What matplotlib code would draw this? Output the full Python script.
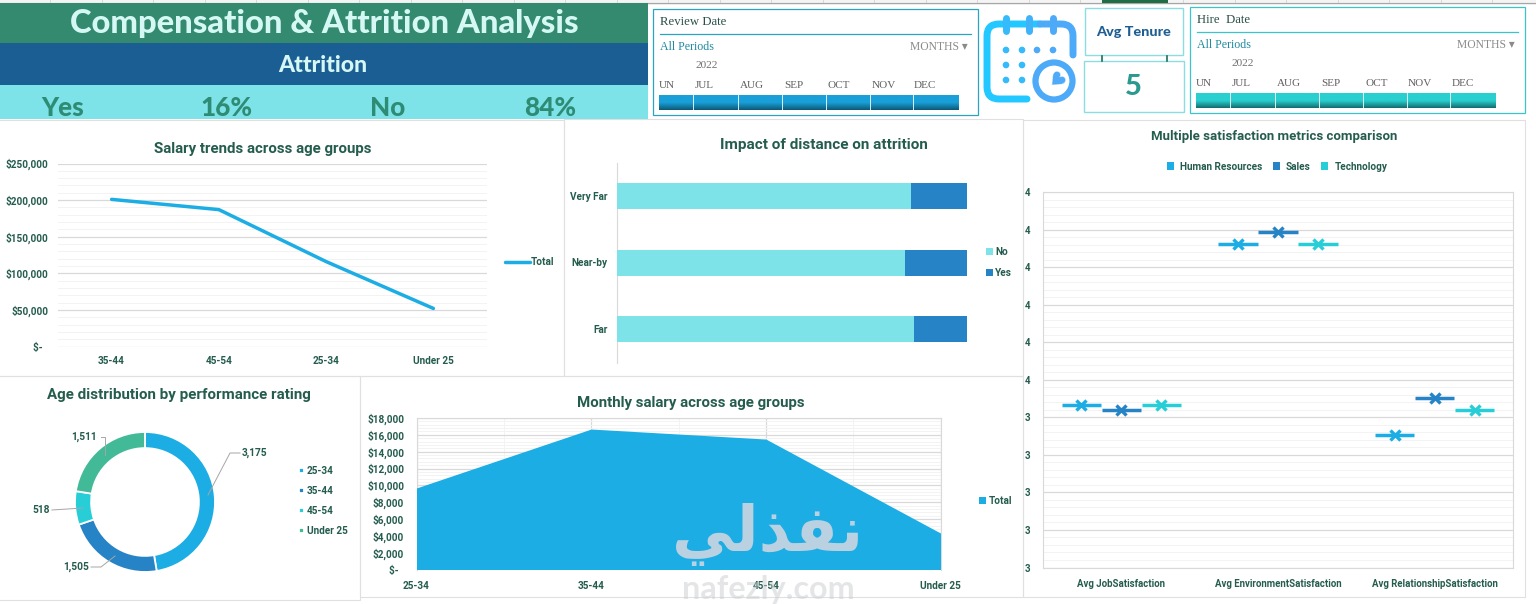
import numpy as np
import matplotlib
matplotlib.use("Agg")
import matplotlib.pyplot as plt
from matplotlib.patches import Rectangle, Circle, PathPatch
from matplotlib.path import Path
from matplotlib.colors import LinearSegmentedColormap
from matplotlib.ticker import MultipleLocator, FixedLocator, NullFormatter

# ---------- data ----------
line_categories = ["35-44", "45-54", "25-34", "Under 25"]
line_values = [201000, 187000, 116000, 52000]

distance_categories = ["Far", "Near-by", "Very Far"]
distance_no = [0.849, 0.823, 0.840]
distance_yes = [0.151, 0.177, 0.160]

area_categories = ["25-34", "35-44", "45-54", "Under 25"]
area_values = [9690, 16690, 15500, 4330]

donut_labels = ["25-34", "35-44", "45-54", "Under 25"]
donut_values = [3175, 1505, 518, 1511]

metric_categories = ["Avg JobSatisfaction", "Avg EnvironmentSatisfaction", "Avg RelationshipSatisfaction"]
metric_series = ["Human Resources", "Sales", "Technology"]
metric_hr = [3.433, 3.862, 3.353]
metric_sales = [3.420, 3.893, 3.452]
metric_tech = [3.432, 3.862, 3.420]
metric_ticklabels = ["3", "3", "3", "3", "3", "4", "4", "4", "4", "4", "4"]

slicer_months = ["UN", "JUL", "AUG", "SEP", "OCT", "NOV", "DEC"]
attrition_yes = "16%"
attrition_no = "84%"
avg_tenure = "5"

# ---------- style ----------
BLUE, DBLUE, CYAN, GREEN = "#1CADE4", "#2683C6", "#27CED7", "#42BA97"
PALE = "#7DE3E8"
INK = "#245C4E"
FRAME = "#E0E0E0"
MAJOR, MINOR = "#D9D9D9", "#F3F3F3"
UI = "Roboto"
HEAD = "Lato"
SERIF = "Liberation Serif"
LEG = {"family": UI, "weight": "bold", "size": 7.2}

W, H = 1536, 604
fig = plt.figure(figsize=(W / 100, H / 100), dpi=100, facecolor="white")


def axpx(l, t, r, b, **kw):
    return fig.add_axes([l / W, 1 - b / H, (r - l) / W, (b - t) / H], **kw)


def make_overlay(z):
    a = fig.add_axes([0, 0, 1, 1], zorder=z)
    a.set_xlim(0, W)
    a.set_ylim(H, 0)
    a.axis("off")
    a.patch.set_alpha(0)
    return a


bg = make_overlay(0)
top = make_overlay(20)


def rect(l, t, r, b, fc="none", ec="none", lw=1.0, ax=bg, z=1):
    ax.add_patch(Rectangle((l, t), r - l, b - t, facecolor=fc, edgecolor=ec, linewidth=lw, zorder=z))


def txt(x, y, s, size=8, color=INK, weight="bold", family=UI, ha="center", va="center", ax=bg, **kw):
    return ax.text(x, y, s, fontsize=size, color=color, fontweight=weight, family=family,
                   ha=ha, va=va, zorder=5, **kw)


def style_axis(ax, size=7.2):
    for s in ax.spines.values():
        s.set_visible(False)
    ax.set_facecolor("none")
    ax.tick_params(axis="both", which="both", length=0)
    ax.set_axisbelow(True)
    for lab in ax.get_xticklabels() + ax.get_yticklabels():
        lab.set_fontsize(size)
        lab.set_fontweight("bold")
        lab.set_family(UI)
        lab.set_color(INK)


def hgrid(ax, major, minor):
    ax.yaxis.set_major_locator(MultipleLocator(major))
    ax.yaxis.set_minor_locator(MultipleLocator(minor))
    ax.grid(True, axis="y", which="minor", color=MINOR, linewidth=0.7)
    ax.grid(True, axis="y", which="major", color=MAJOR, linewidth=0.9)


# ---------- sheet chrome ----------
rect(0, 0, W, 2, fc="#F4F4F4")
bg.plot([0, W], [2.5, 2.5], color="#A6A6A6", lw=1.0, zorder=2)
for x in np.arange(50, W, 51.5):
    bg.plot([x, x], [0, 2], color="#C8C8C8", lw=0.5, zorder=2)
rect(1102, 0, 1168, 3, fc="#1E6E45", z=3)

# ---------- panels ----------
rect(-2, 120, 563.5, 375.5, ec=FRAME, lw=0.8)
rect(563.5, 119, 1023, 375.5, ec=FRAME, lw=0.8)
rect(-2, 376, 359.5, 600, ec=FRAME, lw=0.8)
rect(359.5, 376, 1023, 597, ec=FRAME, lw=0.8)
rect(1023, 120, 1525, 597, ec=FRAME, lw=0.8)

# ---------- header ----------
rect(0, 3, 648, 43, fc="#338A6E", z=2)
rect(0, 43, 648, 85, fc="#1B5E93", z=2)
rect(0, 85, 648, 119, fc=PALE, z=2)
txt(324, 23.5, "Compensation & Attrition Analysis", size=23.6, color="#D5F8F5", family=HEAD, weight="black")
txt(323, 65.5, "Attrition", size=16.6, color="#D5F8F5", family=HEAD, weight="black")
for x, s in zip([63, 226, 388, 550], ["Yes", attrition_yes, "No", attrition_no]):
    txt(x, 108, s, size=18.8, color="#2E8B74", family=HEAD, weight="black")


# ---------- slicers ----------
def slicer(l, t, r, b, title, month_x, bar_l, bar_r, seps, c1, c2, ec):
    rect(l, t, r, b, fc="white", ec=ec, lw=0.9, z=2)
    txt(l + 7, t + 13, title, size=9.2, color="#2A4F48", weight="normal", family=SERIF, ha="left")
    bg.plot([l + 7, r - 7], [t + 25, t + 25], color=ec, lw=0.9, zorder=3)
    txt(l + 7, t + 38, "All Periods", size=8.6, color="#1F8AA0", weight="normal", family=SERIF, ha="left")
    txt(r - 10, t + 38, "MONTHS \u25be", size=8.4, color="#8A8A8A", weight="normal", family=[SERIF, "DejaVu Sans"], ha="right")
    txt(month_x[1], t + 57, "2022", size=8.2, color="#707070", weight="normal", family=SERIF, ha="left")
    for x, m in zip(month_x, slicer_months):
        txt(x, t + 76, m, size=8.0, color="#5F5F5F", weight="normal", family=SERIF, ha="left")
    cmap = LinearSegmentedColormap.from_list("g", [c1, c1, c2])
    bg.imshow(np.linspace(0, 1, 32).reshape(-1, 1), extent=(bar_l, bar_r, t + 101, t + 86), cmap=cmap,
              aspect="auto", zorder=3, origin="upper")
    bg.set_xlim(0, W)
    bg.set_ylim(H, 0)
    for x in seps:
        bg.plot([x, x], [t + 86, t + 101], color="white", lw=0.6, zorder=4)


slicer(653, 9, 978, 115, "Review Date", [659, 695, 740, 784, 828, 872, 914], 659, 959,
       [693, 738, 782, 826, 870, 913], "#1A9FD8", "#0B5A78", "#2AA5C0")
slicer(1190, 7, 1525, 113, "Hire  Date", [1196, 1232, 1277, 1321, 1365, 1408, 1452], 1196, 1496,
       [1230, 1275, 1319, 1363, 1407, 1450], "#2ACFCF", "#126E70", "#3CC4CC")

# ---------- calendar icon ----------
C1, C2 = "#22C8FF", "#4DAAF8"
r = 12
body_l = Path([(1027, 99), (987 + r, 99), (987, 99), (987, 99 - r), (987, 24 + r), (987, 24), (987 + r, 24), (1040, 24)],
              [Path.MOVETO, Path.LINETO, Path.CURVE3, Path.CURVE3, Path.LINETO, Path.CURVE3, Path.CURVE3, Path.LINETO])
body_r = Path([(1040, 24), (1073 - r, 24), (1073, 24), (1073, 24 + r), (1073, 55)],
              [Path.MOVETO, Path.LINETO, Path.CURVE3, Path.CURVE3, Path.LINETO])
bg.add_patch(PathPatch(body_l, fc="none", ec=C1, lw=5, capstyle="round", zorder=3))
bg.add_patch(PathPatch(body_r, fc="none", ec=C2, lw=5, capstyle="round", zorder=3))
for x, c in zip([1006, 1029, 1053], ["#35BAFC", "#40B2FA", C2]):
    bg.plot([x, x], [18, 31], color=c, lw=5, solid_capstyle="round", zorder=4)
for y, xs in zip([50, 65, 80], [[1006, 1022, 1037, 1053], [1006, 1022], [1006, 1022]]):
    for x in xs:
        bg.add_patch(Circle((x, y), 3.3, fc="#35BAFC" if x < 1030 else C2, ec="none", zorder=4))
bg.add_patch(Circle((1054, 81), 18.5, fc="white", ec=C2, lw=4.5, zorder=4))
txt(1054, 81, "\u2665", size=14, color=C2, weight="normal", family="DejaVu Sans", rotation=-45)

# ---------- tenure cards ----------
rect(1085, 8, 1183, 55, fc="white", ec="#8CDDE0", lw=1.0, z=2)
rect(1084, 61, 1184, 112, fc="white", ec="#8CDDE0", lw=1.0, z=2)
for x in [1102, 1167]:
    bg.plot([x, x], [55.5, 60.5], color="#1E6E5A", lw=1.2, zorder=2)
txt(1134, 32, "Avg Tenure", size=10.4, color="#1F5E93", family=HEAD, weight="black")
txt(1133, 87, avg_tenure, size=21, color="#2A9A90", family=HEAD, weight="black")

# ---------- line chart ----------
ax = axpx(58, 163.5, 487, 346.5)
x = np.arange(len(line_values))
ax.plot(x, line_values, color=BLUE, lw=2.5, solid_capstyle="round", label="Total", zorder=3)
ax.set_xlim(-0.5, 3.5)
ax.set_ylim(0, 250000)
hgrid(ax, 50000, 10000)
ax.set_xticks(x, line_categories)
ax.yaxis.set_major_formatter(lambda v, p: "$-\u00a0\u00a0" if v == 0 else f"${v:,.0f}")
ax.yaxis.set_minor_formatter(NullFormatter())
style_axis(ax)
ax.tick_params(axis="x", pad=7)
ax.tick_params(axis="y", pad=7.2)
ax.legend(loc="center left", bbox_to_anchor=((500 - 58) / 429, (346.5 - 262) / 183), frameon=False, handlelength=2.5,
          handletextpad=0.1, borderpad=0, prop=LEG, labelcolor=INK)
txt(263, 148.5, "Salary trends across age groups", size=10.8)

# ---------- stacked bars ----------
ax = axpx(617, 162.5, 990, 362.5)
y = np.arange(len(distance_categories))
ax.barh(y, distance_no, height=0.39, color=PALE, label="No", zorder=3)
ax.barh(y, distance_yes, left=distance_no, height=0.39, color=DBLUE, label="Yes", zorder=3)
ax.set_xlim(0, 373 / 350)
ax.set_ylim(-0.5, 2.5)
ax.set_xticks([])
ax.set_yticks(y, distance_categories)
style_axis(ax)
ax.spines["left"].set_visible(True)
ax.spines["left"].set_color(MAJOR)
ax.tick_params(axis="y", pad=7)
ax.legend(loc="center left", bbox_to_anchor=((981 - 617) / 373, (362 - 262) / 200), frameon=False, handlelength=0.7,
          handleheight=0.7, handletextpad=0.2, labelspacing=1.05, borderpad=0, prop=LEG, labelcolor=INK)
txt(824, 144.5, "Impact of distance on attrition", size=11)

# ---------- satisfaction metrics ----------
ax = axpx(1043, 192, 1513, 567.5)
ax.set_xlim(-0.5, 2.5)
ax.set_ylim(3.0, 4.0)
hgrid(ax, 0.1, 0.02)
xpos = np.arange(len(metric_categories))
for off, vals, col, name in zip([-0.255, 0.0, 0.255], [metric_hr, metric_sales, metric_tech],
                                [BLUE, DBLUE, CYAN], metric_series):
    ax.hlines(vals, xpos + off - 0.125, xpos + off + 0.125, colors=col, lw=2.5, zorder=3)
    ax.plot(xpos + off, vals, ls="none", marker="x", ms=7.5, mew=2.4, color=col, zorder=4)
    ax.bar([0], [0], color=col, label=name)
ax.set_xticks(xpos, metric_categories)
ax.yaxis.set_major_locator(FixedLocator(np.arange(11) / 10 + 3))
ax.set_yticklabels(metric_ticklabels)
style_axis(ax, 6.9)
for s in ["left", "right", "top", "bottom"]:
    ax.spines[s].set_visible(True)
    ax.spines[s].set_color(MAJOR)
ax.tick_params(axis="x", pad=8.5)
ax.tick_params(axis="y", pad=9)
ax.legend(loc="center", bbox_to_anchor=((1277 - 1043) / 470, 1 + 25.5 / 375.5), ncol=3, frameon=False, handlelength=0.75,
          handleheight=0.75, handletextpad=0.6, columnspacing=1.0, borderpad=0, prop=LEG, labelcolor=INK)
txt(1274, 136.5, "Multiple satisfaction metrics comparison", size=9.5)

# ---------- donut ----------
ax = axpx(75, 432, 215, 572)
wedges, _ = ax.pie(donut_values, colors=[BLUE, DBLUE, CYAN, GREEN], startangle=90, counterclock=False, radius=1,
                   wedgeprops={"width": 0.23, "edgecolor": "white", "linewidth": 1.3})
ax.set_xlim(-1, 1)
ax.set_ylim(-1, 1)
ax.legend(wedges, donut_labels, loc="center left", bbox_to_anchor=((294 - 75) / 140, (572 - 501) / 140), frameon=False,
          handlelength=0.5, handleheight=0.5, handletextpad=0.3, labelspacing=1.0, borderpad=0, prop=LEG, labelcolor=INK)
txt(178.5, 395.5, "Age distribution by performance rating", size=10.9)
leader_paths = [[(208, 495), (230, 453), (240, 453)], [(105, 455), (105, 437), (101, 437)],
                [(83, 508), (52, 510)], [(115, 556), (101, 567), (91, 567)]]
for pts in leader_paths:
    xs, ys = zip(*pts)
    top.plot(xs, ys, color="#A6A6A6", lw=0.7)
for (px, py), v in zip([(254, 453), (76, 567), (41, 510), (84, 437)], donut_values):
    txt(px, py, f"{v:,}", size=7.3)

# ---------- area ----------
ax = axpx(416.5, 418, 940.5, 569.5)
x = np.arange(len(area_values))
ax.fill_between(x, area_values, 0, color=BLUE, lw=0, label="Total", zorder=3)
ax.set_xlim(0, 3)
ax.set_ylim(0, 18000)
hgrid(ax, 2000, 400)
ax.xaxis.set_major_locator(MultipleLocator(1))
ax.xaxis.set_minor_locator(MultipleLocator(0.5))
ax.grid(True, axis="x", which="minor", color=MINOR, linewidth=0.7)
ax.grid(True, axis="x", which="major", color=MAJOR, linewidth=0.9)
ax.set_xticks(x, area_categories)
ax.yaxis.set_major_formatter(lambda v, p: "$-\u00a0\u00a0" if v == 0 else f"${v:,.0f}")
ax.yaxis.set_minor_formatter(NullFormatter())
style_axis(ax)
for s in ["top", "right", "left"]:
    ax.spines[s].set_visible(True)
    ax.spines[s].set_color(MAJOR)
ax.tick_params(axis="x", pad=8)
ax.tick_params(axis="y", pad=9)
ax.legend(loc="center left", bbox_to_anchor=((974 - 416.5) / 524, (569.5 - 501) / 151.5), frameon=False, handlelength=0.7,
          handleheight=0.7, handletextpad=0.3, borderpad=0, prop=LEG, labelcolor=INK)
txt(691, 403.5, "Monthly salary across age groups", size=10.8)

# ---------- watermark ----------
txt(768, 535, "\ufef2\ufedf\ufeac\ufed4\ufee7", size=45, color="#B9D1E0", family="DejaVu Sans", ax=top)
txt(768, 589, "nafezly.com", size=23.3, color="#C9CDD0", family=HEAD, weight="bold", ax=top, alpha=0.5)

fig.savefig("out.png", dpi=100, facecolor="white")
